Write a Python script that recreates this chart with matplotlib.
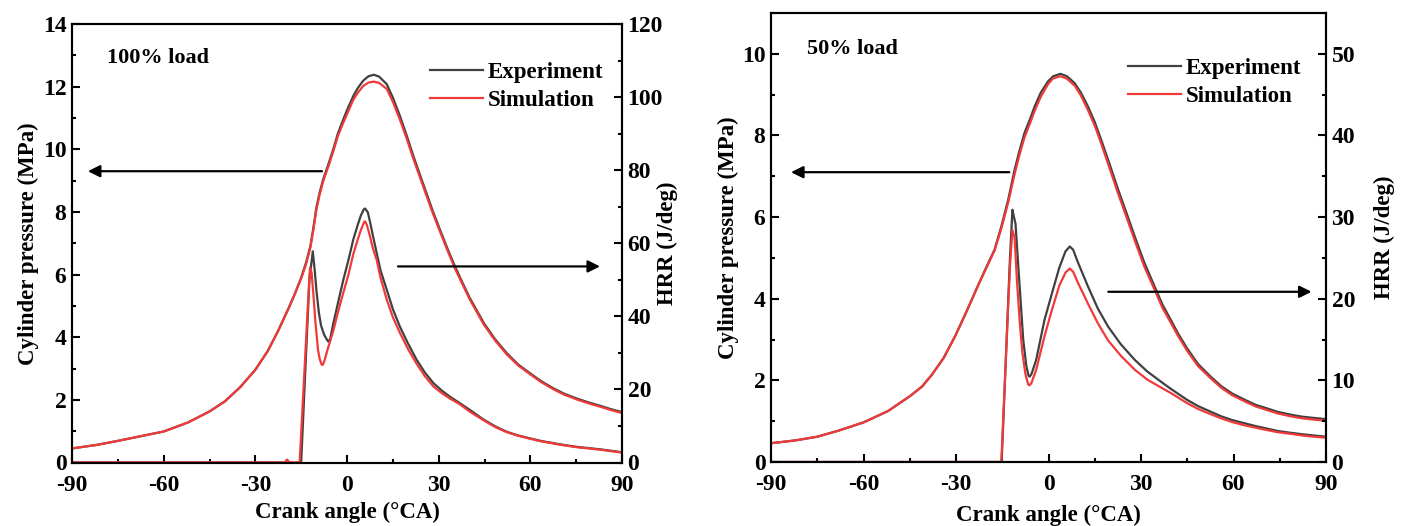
import matplotlib
matplotlib.use("Agg")
import numpy as np
import matplotlib.pyplot as plt
from matplotlib.ticker import MultipleLocator

plt.rcParams['font.family'] = ['Liberation Serif', 'DejaVu Serif']
plt.rcParams['font.weight'] = 'bold'
plt.rcParams['axes.labelweight'] = 'bold'
plt.rcParams['axes.unicode_minus'] = False

BLACK = '#404040'
RED = '#f03a3a'

# ---------------- 100% load ----------------
p100_ca = [-90, -82, -75, -68, -60, -52, -45, -40, -35, -30, -26, -22.6, -19, -17, -15,
           -13.5, -12, -11, -10, -9, -7.8, -6, -4.5, -3, -1.2, 0, 2.05, 3.5, 5.3, 7,
           8.8, 10.5, 13, 15, 17.3, 19.5, 21.7, 24, 26, 28, 30.4, 33, 35.3, 37.5,
           40.2, 44.8, 48.5, 52.3, 56, 59.9, 63.5, 67.5, 71, 75, 79, 82.9, 86.5, 90]
p100_exp = [0.45, 0.56, 0.69, 0.83, 0.99, 1.28, 1.63, 1.95, 2.4, 2.96, 3.55, 4.19, 4.95,
            5.4, 5.9, 6.35, 6.9, 7.5, 8.15, 8.6, 9.04, 9.55, 10.0, 10.5, 10.96, 11.25,
            11.7, 11.95, 12.19, 12.33, 12.38, 12.32, 12.08, 11.65, 11.07, 10.45, 9.79,
            9.15, 8.6, 8.05, 7.44, 6.8, 6.27, 5.8, 5.25, 4.45, 3.93, 3.49, 3.13, 2.85,
            2.6, 2.37, 2.2, 2.05, 1.92, 1.81, 1.7, 1.61]
p100_sim = [0.45, 0.56, 0.69, 0.83, 0.99, 1.28, 1.63, 1.95, 2.4, 2.96, 3.55, 4.19, 4.95,
            5.4, 5.88, 6.3, 6.85, 7.42, 8.08, 8.53, 8.98, 9.48, 9.93, 10.42, 10.85, 11.12,
            11.58, 11.8, 12.02, 12.13, 12.16, 12.12, 11.93, 11.52, 10.95, 10.35, 9.7,
            9.07, 8.52, 7.98, 7.38, 6.74, 6.2, 5.75, 5.2, 4.4, 3.89, 3.45, 3.1, 2.82,
            2.57, 2.34, 2.17, 2.02, 1.89, 1.78, 1.67, 1.58]

h100_ca_exp = [-90, -40, -20, -15.0, -12.3, -11.2, -10.5, -10.0, -9.2, -8.5, -7.5, -6.5,
               -6.1, -5.5, -4.5, -3, -1.2, 0.5, 2.05, 3.5, 4.5, 5.5, 5.9, 6.8, 7.5, 8.5,
               9.7, 11, 13, 15, 17.3, 20, 22.8, 25.5, 28.3, 31, 33.7, 37, 40.2, 44.8,
               48.5, 52.3, 56, 59.9, 63.5, 67.5, 71, 75, 79, 82.9, 86.5, 90]
h100_exp = [0.0, 0.0, 0.0, 0.0, 50, 57.8, 52, 47, 41, 37.5, 35, 33.5,
            33.1, 33.8, 38, 43.5, 50, 55.5, 61, 65, 67.5, 69.3, 69.5, 68.5, 66, 62,
            57.4, 52.5, 47.3, 42, 37.2, 32.5, 28.1, 24.6, 21.7, 19.7, 18.0, 16.2, 14.4,
            11.7, 9.9, 8.4, 7.4, 6.6, 5.9, 5.3, 4.8, 4.3, 3.95, 3.6, 3.2, 2.8]
h100_ca_sim = [-90, -40, -20.5, -19.6, -18.8, -15.5, -12.3, -12.1, -11.6, -11.0, -10.3,
               -9.5, -9.0, -8.3, -8.0, -7.5, -6.5, -4.5, -3, -1.2, 0.5, 2.05, 3.5, 4.5,
               5.6, 5.9, 6.5, 7.5, 8.5, 9.7, 11, 13, 15, 17.3, 20, 22.8, 25.5, 28.3, 31,
               33.7, 37, 40.2, 44.8, 48.5, 52.3, 56, 59.9, 63.5, 67.5, 71, 75, 79, 82.9,
               86.5, 90]
h100_sim = [0.0, 0.0, 0.0, 0.8, 0.0, 0.0, 51, 53.3, 52, 46, 38,
            31, 28.5, 26.8, 26.7, 27.5, 30.5, 36, 41, 46.5, 51.5, 57, 61, 63.5,
            65.8, 66, 65, 62, 58.5, 55.5, 50.5, 44.6, 39.8, 35.5, 31, 27, 23.6, 20.8, 19,
            17.5, 15.9, 13.9, 11.5, 9.7, 8.3, 7.3, 6.5, 5.8, 5.2, 4.7, 4.2, 3.85, 3.5,
            3.1, 2.7]

# ---------------- 50% load ----------------
p50_ca = [-90, -82, -75, -68, -60, -52, -45, -41, -37.8, -34, -30.3, -26.5, -23, -20,
          -17.5, -15.3, -13, -11.0, -9.5, -7.8, -6, -4.5, -2.5, -0.2, 1.5, 3.9, 6, 8.5,
          10.5, 12.8, 15, 17.1, 19.8, 22.6, 25.3, 28.0, 31, 34.4, 37, 39.9, 42, 45,
          48.5, 52.6, 56, 59.5, 63.5, 67.2, 71, 74.3, 78.5, 82.3, 86, 90]
p50_exp = [0.46, 0.53, 0.62, 0.77, 0.97, 1.25, 1.61, 1.85, 2.14, 2.55, 3.08, 3.7, 4.3,
           4.8, 5.2, 5.77, 6.45, 7.16, 7.6, 8.06, 8.4, 8.71, 9.05, 9.32, 9.45, 9.51,
           9.45, 9.28, 9.05, 8.71, 8.33, 7.89, 7.3, 6.67, 6.1, 5.52, 4.9, 4.3, 3.85,
           3.45, 3.15, 2.78, 2.4, 2.09, 1.86, 1.68, 1.53, 1.40, 1.31, 1.23, 1.16, 1.11,
           1.08, 1.05]
p50_sim = [0.46, 0.53, 0.62, 0.77, 0.97, 1.25, 1.61, 1.85, 2.14, 2.55, 3.08, 3.7, 4.3,
           4.78, 5.18, 5.72, 6.38, 7.05, 7.5, 7.95, 8.3, 8.6, 8.95, 9.25, 9.4, 9.45,
           9.39, 9.22, 8.98, 8.62, 8.24, 7.8, 7.2, 6.57, 6.0, 5.42, 4.8, 4.22, 3.77,
           3.38, 3.09, 2.72, 2.35, 2.05, 1.82, 1.64, 1.49, 1.36, 1.27, 1.19, 1.12, 1.07,
           1.04, 1.01]

h50_ca_exp = [-90, -40, -20, -15.2, -12.5, -11.7, -11.2, -10.7, -9.8, -9.0, -8.2, -7.2,
              -6.5, -6.1, -5.5, -4, -1.3, 1, 3.5, 5.5, 6.9, 8, 9.5, 12.8, 16, 19.3,
              23.5, 28.0, 32, 36.6, 39.9, 45, 48.5, 52.6, 56, 59.5, 63.5, 67.2, 71, 74.3,
              78.5, 82.3, 86, 90]
h50_exp = [0.0, 0.0, 0.0, 0.0, 25, 30.9, 30, 29.2, 24, 19.5, 15, 11.8,
           10.6, 10.45, 10.8, 12.5, 17.4, 20.5, 23.8, 25.8, 26.4, 26, 24.5, 21.5, 18.8,
           16.6, 14.4, 12.5, 11.1, 9.8, 8.9, 7.6, 6.85, 6.16, 5.6, 5.15, 4.75, 4.4,
           4.08, 3.8, 3.58, 3.4, 3.25, 3.1]
h50_ca_sim = [-90, -40, -20, -15.3, -12.5, -11.7, -11.0, -10.2, -9.3, -8.5, -7.5, -6.6,
              -6.1, -5.5, -4, -1.3, 1, 3.5, 5.5, 6.9, 8, 9.5, 12.8, 16, 19.3, 23.5, 28.0,
              32, 36.6, 39.9, 45, 48.5, 52.6, 56, 59.5, 63.5, 67.2, 71, 74.3, 78.5, 82.3,
              86, 90]
h50_sim = [0.0, 0.0, 0.0, 0.0, 24, 28.4, 27.5, 22, 17, 13.5, 10.8, 9.5,
           9.4, 9.7, 11.3, 15.4, 18.5, 21.6, 23.2, 23.7, 23.3, 22, 19.4, 17, 14.9, 13,
           11.3, 10.1, 9.1, 8.4, 7.2, 6.5, 5.85, 5.35, 4.9, 4.5, 4.2, 3.9, 3.65, 3.45,
           3.25, 3.1, 2.98]

xticks = [-90, -60, -30, 0, 30, 60, 90]


def style_axis(ax, ymaj, ymin):
    ax.tick_params(axis='both', which='both', direction='in', labelsize=17,
                   width=1.5, top=False)
    ax.tick_params(which='major', length=6)
    ax.tick_params(which='minor', length=3)
    ax.yaxis.set_major_locator(MultipleLocator(ymaj))
    ax.yaxis.set_minor_locator(MultipleLocator(ymin))
    for s in ax.spines.values():
        s.set_linewidth(1.5)


def make_panel(fig, rect, p_ca, p_exp, p_sim, hca_e, h_e, hca_s, h_s,
               pmax, pmaj, hmax, hmaj, load_text, arrows, leg_xy, load_xy,
               lab_pos):
    ax = fig.add_axes(rect)
    ax2 = ax.twinx()

    ax.plot(p_ca, p_exp, color=BLACK, lw=1.6, label='Experiment')
    ax.plot(p_ca, p_sim, color=RED, lw=1.6, label='Simulation')
    ax2.plot(hca_e, h_e, color=BLACK, lw=1.6)
    ax2.plot(hca_s, h_s, color=RED, lw=1.6)

    ax.set_xlim(-90, 90)
    ax.set_ylim(0, pmax)
    ax2.set_ylim(0, hmax)
    ax.set_xticks(xticks)
    ax.xaxis.set_minor_locator(MultipleLocator(15))
    style_axis(ax, pmaj, pmaj / 2)
    style_axis(ax2, hmaj, hmaj / 2)
    ax.tick_params(axis='x', pad=9)
    ax.tick_params(axis='y', pad=4)
    ax2.tick_params(axis='y', pad=4)

    ax.set_xlabel('Crank angle (°CA)', fontsize=16.5)
    ax.set_ylabel('Cylinder pressure (MPa)', fontsize=16.5)
    ax2.set_ylabel('HRR (J/deg)', fontsize=16.5, rotation=90)
    ax.xaxis.set_label_coords(0.5, lab_pos[0])
    ax.yaxis.set_label_coords(lab_pos[1], 0.5)
    ax2.yaxis.set_label_coords(lab_pos[2], 0.5)

    ax.text(load_xy[0], load_xy[1], load_text, transform=ax.transAxes,
            fontsize=16, fontweight='bold', ha='left', va='center')

    for (x0, x1, y) in arrows:
        ax.annotate('', xy=(x1, y), xytext=(x0, y),
                    arrowprops=dict(arrowstyle='-|>', color='k', lw=1.6,
                                    mutation_scale=18, shrinkA=0, shrinkB=0))

    ax.legend(loc='upper left', bbox_to_anchor=leg_xy, frameon=False,
              fontsize=16.5, handlelength=2.3, handletextpad=0.22,
              labelspacing=0.3, borderpad=0, borderaxespad=0)
    return ax, ax2


fig = plt.figure(figsize=(14.02, 5.26), dpi=100)

make_panel(fig, [72 / 1402, 1 - 462.5 / 526, 550 / 1402, 438.5 / 526],
           p100_ca, p100_exp, p100_sim, h100_ca_exp, h100_exp, h100_ca_sim, h100_sim,
           14, 2, 120, 20, '100% load',
           [(-8.2, -84.8, 9.3), (16.7, 82.8, 6.26)],
           (0.651, 0.914), (0.064, 0.922), (-0.09, -0.060, 1.063))

make_panel(fig, [771 / 1402, 1 - 462 / 526, 555 / 1402, 449 / 526],
           p50_ca, p50_exp, p50_sim, h50_ca_exp, h50_exp, h50_ca_sim, h50_sim,
           11, 2, 55, 10, '50% load',
           [(-12.7, -83.5, 7.1), (19.4, 85.3, 4.17)],
           (0.644, 0.899), (0.065, 0.92), (-0.095, -0.057, 1.087))

fig.savefig('out.png', dpi=100)
